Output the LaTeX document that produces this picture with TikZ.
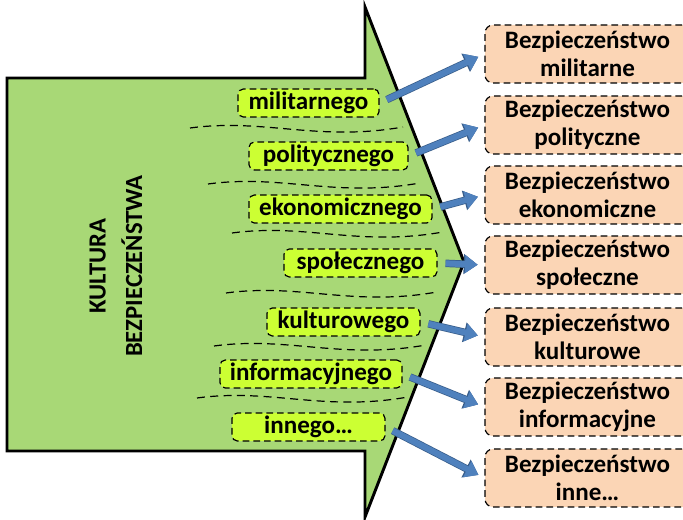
\documentclass[tikz,border=0pt]{standalone}
\usepackage{fontspec}
\setmainfont{Carlito}
\usetikzlibrary{arrows.meta}
\definecolor{kgreen}{RGB}{168,216,118}
\definecolor{klime}{RGB}{204,255,51}
\definecolor{kpeach}{RGB}{251,213,181}
\definecolor{kblue}{RGB}{79,129,189}
\definecolor{kblueline}{RGB}{56,93,138}
\tikzset{
  dziedzina/.style={draw, fill=klime, rounded corners=4pt, dash pattern=on 5pt off 3pt,
    line width=0.9pt, inner xsep=5pt, inner ysep=0pt, minimum height=21pt,
    font=\fontsize{18.8}{21}\selectfont\bfseries},
  rodzaj/.style={draw, fill=kpeach, rounded corners=6pt, dash pattern=on 5pt off 3pt,
    line width=0.9pt, minimum width=153.75pt, minimum height=43.5pt, inner sep=0pt,
    align=center, font=\fontsize{18.8}{21}\selectfont\bfseries},
  fala/.style={dash pattern=on 6pt off 4pt, line width=0.9pt},
  strzalka/.style={draw=kblue, line width=4.5pt, -{Triangle[length=9.5pt,width=13pt]},
    shorten <=6pt, shorten >=5pt,
    preaction={draw=kblueline, line width=5.6pt, -{Triangle[length=10.5pt,width=14.5pt]}}}
}
\begin{document}
\begin{tikzpicture}[x=0.75pt,y=-0.75pt]
  \useasboundingbox (0,0) rectangle (683,520);

  \draw[fill=kgreen, line width=2.2pt, line join=miter]
    (7,78) -- (365,78) -- (365,7) -- (464,262) -- (365,517) -- (365,451) -- (7,451) -- cycle;
  \node[rotate=90, align=center, font=\fontsize{18.5}{27.5}\selectfont\bfseries] (kultura) at (116,266)
    {KULTURA\\BEZPIECZEŃSTWA};

  % linie falowane
  \foreach \x/\y/\w in {190/128/213, 208/184/212, 232/233/211, 226/293/211, 214/346/212, 197/398/211}
    \draw[fala] (\x,\y) .. controls ({\x+0.35*\w},{\y-10}) and ({\x+0.6*\w},{\y+14}) .. ({\x+\w},{\y-1});

  \node[dziedzina, minimum width=105.75pt] (mil) at (308.5,103) {militarnego};
  \node[dziedzina, minimum width=119.25pt] (pol) at (328.5,156) {politycznego};
  \node[dziedzina, minimum width=137.25pt] (eko) at (340.5,209) {ekonomicznego};
  \node[dziedzina, minimum width=114.75pt] (spo) at (360.5,263) {społecznego};
  \node[dziedzina, minimum width=114.75pt] (kul) at (343.5,322) {kulturowego};
  \node[dziedzina, minimum width=136.5pt] (inf) at (311,374) {informacyjnego};
  \node[dziedzina, minimum width=114.75pt] (inn) at (308.5,427) {innego\ldots};

  \node[rodzaj] (bmil) at (587.5,54) {Bezpieczeństwo\\militarne};
  \node[rodzaj] (bpol) at (587.5,125) {Bezpieczeństwo\\polityczne};
  \node[rodzaj] (beko) at (587.5,195) {Bezpieczeństwo\\ekonomiczne};
  \node[rodzaj] (bspo) at (587.5,265) {Bezpieczeństwo\\społeczne};
  \node[rodzaj] (bkul) at (587.5,337) {Bezpieczeństwo\\kulturowe};
  \node[rodzaj] (binf) at (587.5,407) {Bezpieczeństwo\\informacyjne};
  \node[rodzaj] (binn) at (587.5,478) {Bezpieczeństwo\\inne\ldots};

  \draw[strzalka] (mil.east) -- (bmil.west);
  \draw[strzalka] (pol.east) -- (bpol.west);
  \draw[strzalka] (eko.east) -- (beko.west);
  \draw[strzalka] (spo.east) -- (bspo.west);
  \draw[strzalka] (kul.east) -- (bkul.west);
  \draw[strzalka] (inf.east) -- (binf.west);
  \draw[strzalka] (inn.east) -- (binn.west);
\end{tikzpicture}
\end{document}
